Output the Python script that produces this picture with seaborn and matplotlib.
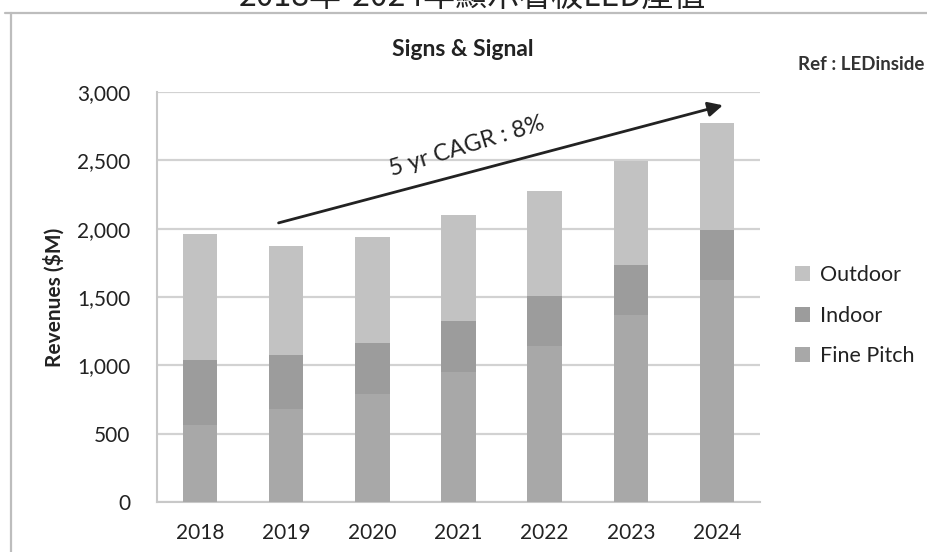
import numpy as np
import pandas as pd
import seaborn as sns
import matplotlib.pyplot as plt
from matplotlib.lines import Line2D
from matplotlib.patches import Patch

# Values ($M)
years = ['2018', '2019', '2020', '2021', '2022', '2023', '2024']
fine_pitch = [564, 681, 789, 950, 1145, 1370, 1626]
indoor = [476, 396, 373, 376, 359, 361, 362]
outdoor = [918, 793, 779, 774, 773, 764, 782]
y_ticks = [0, 500, 1000, 1500, 2000, 2500, 3000]

colors = {'Outdoor': '#c2c2c2', 'Indoor': '#9c9c9c', 'Fine Pitch': '#a8a8a8'}

df = pd.DataFrame({'Year': years, 'Fine Pitch': fine_pitch,
                   'Indoor': indoor, 'Outdoor': outdoor})
df['Indoor top'] = df['Fine Pitch'] + df['Indoor']
df['Total'] = df['Indoor top'] + df['Outdoor']

sns.set_theme(style='white')
plt.rcParams['font.family'] = ['Lato', 'DejaVu Sans']

fig = plt.figure(figsize=(9.27, 5.52), dpi=100)
ax = fig.add_axes([157 / 927, 1 - 502 / 552, 603 / 927, 410 / 552])

# stacked bars: draw totals first, then lower stacks on top
for col, name in [('Total', 'Outdoor'), ('Indoor top', 'Indoor'), ('Fine Pitch', 'Fine Pitch')]:
    sns.barplot(data=df, x='Year', y=col, color=colors[name], width=0.4,
                saturation=1, linewidth=0, edgecolor='none', ax=ax, zorder=3)

ax.set_xlim(-0.5, len(years) - 0.5)
ax.set_ylim(0, 3000)
ax.set_yticks(y_ticks)
ax.set_yticklabels([f'{v:,}' for v in y_ticks])
ax.set_xlabel('')
ax.set_ylabel('Revenues ($M)', fontsize=15, fontweight='bold', color='#222222', labelpad=9)

# grid and spines
ax.yaxis.grid(True, color='#d2d2d2', linewidth=1.6, zorder=0)
ax.set_axisbelow(True)
for s in ['top', 'right']:
    ax.spines[s].set_visible(False)
for s in ['left', 'bottom']:
    ax.spines[s].set_color('#c8c8c8')
    ax.spines[s].set_linewidth(1.5)

# x ticks at category boundaries, labels in the middle
ax.set_xticks(np.arange(-0.5, len(years)), minor=True)
ax.tick_params(axis='x', which='minor', length=9, width=1.3, color='#c8c8c8', direction='out')
ax.tick_params(axis='x', which='major', length=0, pad=15, labelsize=15, labelcolor='#222222')
ax.tick_params(axis='y', length=9, width=1.3, color='#c8c8c8', direction='out',
               pad=10, labelsize=15, labelcolor='#222222')

# CAGR arrow
ax.annotate('', xy=(6.1, 2908), xytext=(0.88, 2037),
            arrowprops=dict(arrowstyle='-|>', color='#222222', lw=2, mutation_scale=22),
            zorder=5)
ax.text(3.1, 2600, '5 yr CAGR : 8%', rotation=17, ha='center', va='center',
        fontsize=17, color='#222222', rotation_mode='anchor')

# titles and notes
fig.text(463 / 927, 1 - 50 / 552, 'Signs & Signal', ha='center', va='center',
         fontsize=16.5, fontweight='bold', color='#222222')
fig.text(924 / 927, 1 - 65 / 552, 'Ref : LEDinside', ha='right', va='center',
         fontsize=13.5, fontweight='bold', color='#333333')
fig.text(472 / 927, 1 - 6 / 552, '2018年-2024年顯示看板LED產值', ha='center', va='baseline',
         fontsize=23, color='#222222', family=['Noto Sans CJK TC', 'DejaVu Sans'])

# chart frame
fig.add_artist(Line2D([10.5 / 927, 10.5 / 927], [0, 1 - 13 / 552],
                      transform=fig.transFigure, color='#bdbdbd', lw=1.6))
fig.add_artist(Line2D([5 / 927, 1], [1 - 13 / 552, 1 - 13 / 552],
                      transform=fig.transFigure, color='#bdbdbd', lw=1.6))

# legend
handles = [Patch(facecolor=colors[k], edgecolor='none', label=k)
           for k in ['Outdoor', 'Indoor', 'Fine Pitch']]
fig.legend(handles=handles, loc='upper left', bbox_to_anchor=(776 / 927, 1 - 246 / 552),
           frameon=False, fontsize=15.5, handlelength=0.7, handleheight=0.7,
           handletextpad=0.45, labelspacing=0.95, labelcolor='#222222')

fig.savefig('out.png', dpi=100)
